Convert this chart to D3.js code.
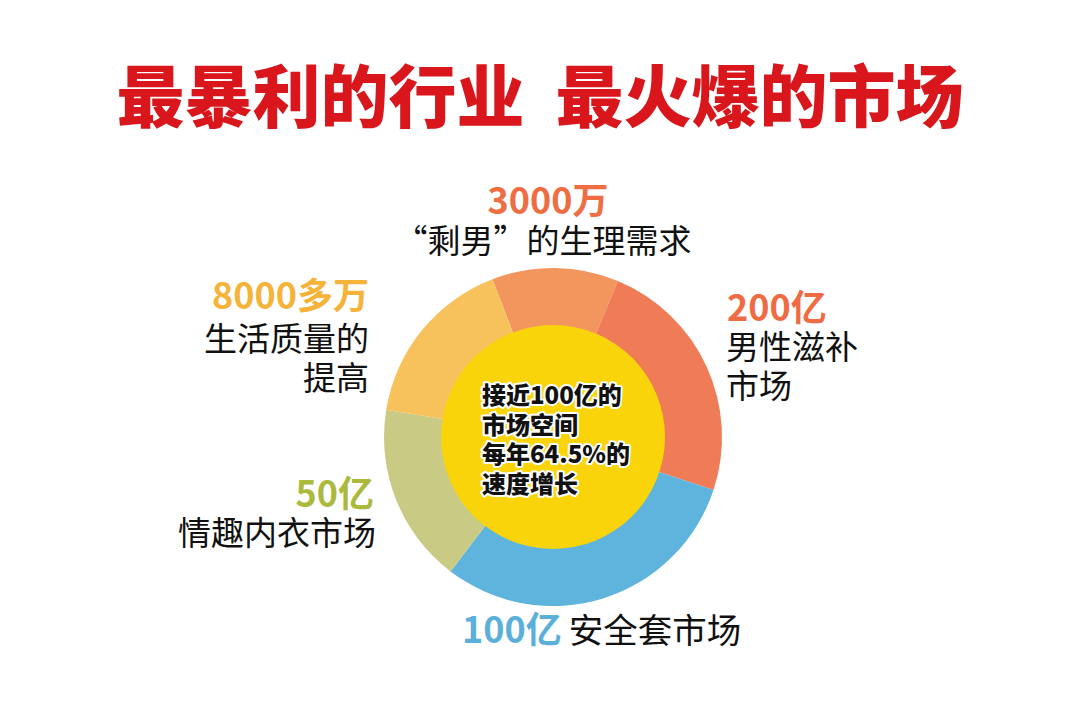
<!DOCTYPE html>
<html><head><meta charset="utf-8">
<script src="https://cdn.jsdelivr.net/npm/d3@7"></script>
<style>
body{margin:0;background:#fff;}
svg{display:block;font-family:"Noto Sans CJK SC","Noto Sans",sans-serif;}
</style></head>
<body>
<svg id="c" width="1080" height="714"></svg>
<script>
// ---- data ----
const title = "最暴利的行业  最火爆的市场";
const segments = ["3000万", "200亿", "100亿", "50亿", "8000多万"];
const segmentNames = ["“剩男”的生理需求", "男性滋补市场", "安全套市场", "情趣内衣市场", "生活质量的提高"];
const shares = [12.1, 23.8, 30.3, 17.2, 16.6];
const ringColors = ["#F2965E", "#F07C57", "#5EB4DC", "#C9CB85", "#F7C25B"];
const labelColors = ["#EF6D42", "#EF6B43", "#5BB0DA", "#ABBA3D", "#F5B33A"];
const centerLines = ["接近100亿的", "市场空间", "每年64.5%的", "速度增长"];

const svg = d3.select("#c");
const cx = 553, cy = 437, rOuter = 169, rInner = 112;

// title
svg.append("text")
  .attr("x", 540).attr("y", 122)
  .attr("text-anchor", "middle")
  .attr("fill", "#D8161C")
  .attr("font-size", 68).attr("font-weight", 900)
  .attr("xml:space", "preserve")
  .style("white-space", "pre")
  .text(title);

// donut
const startA = -21 * Math.PI / 180;
const pie = d3.pie().sort(null).value(d => d)
  .startAngle(startA).endAngle(startA + 2 * Math.PI);
const arc = d3.arc().innerRadius(rInner - 2).outerRadius(rOuter);
const g = svg.append("g").attr("transform", `translate(${cx},${cy})`);
g.selectAll("path.seg").data(pie(shares)).join("path")
  .attr("class", "seg")
  .attr("d", arc)
  .attr("fill", (d, i) => ringColors[i]);
g.append("circle").attr("r", rInner).attr("fill", "#F9D40B");

// center text
const ct = svg.append("g");
centerLines.forEach((t, i) => {
  ct.append("text")
    .attr("x", 482).attr("y", 404 + i * 29.5)
    .attr("font-size", 24).attr("font-weight", 900)
    .attr("fill", "#111")
    .attr("stroke", "#fff").attr("stroke-width", 4)
    .attr("stroke-linejoin", "round")
    .style("paint-order", "stroke")
    .text(t);
});

// labels: value (bold, coloured) + description lines
const labelLayout = [
  {anchor: "middle", x: 548, vy: 214, lines: [segmentNames[0]], ly: [253], lx: 543},
  {anchor: "start", x: 727, vy: 321, lines: ["男性滋补", "市场"], ly: [359, 398], lx: 726},
  null,
  {anchor: "end", x: 374, vy: 507, lines: [segmentNames[3]], ly: [545], lx: 376},
  {anchor: "end", x: 369, vy: 309, lines: ["生活质量的", "提高"], ly: [351, 390], lx: 369}
];
labelLayout.forEach((L, i) => {
  if (!L) return;
  svg.append("text")
    .attr("x", L.x).attr("y", L.vy)
    .attr("text-anchor", L.anchor)
    .attr("font-size", 36).attr("font-weight", 700)
    .attr("fill", labelColors[i])
    .text(segments[i]);
  L.lines.forEach((t, j) => {
    svg.append("text")
      .attr("x", L.lx).attr("y", L.ly[j])
      .attr("text-anchor", L.anchor)
      .attr("font-size", 33).attr("font-weight", 400)
      .attr("fill", "#111")
      .text(t);
  });
});
// bottom label (blue) on one line
const bt = svg.append("text").attr("x", 462).attr("y", 643);
bt.append("tspan").attr("font-size", 36).attr("font-weight", 700)
  .attr("fill", labelColors[2]).text(segments[2]);
bt.append("tspan").attr("dx", 7).attr("font-size", 34.5).attr("font-weight", 400)
  .attr("fill", "#111").text(segmentNames[2]);
</script>
</body></html>
